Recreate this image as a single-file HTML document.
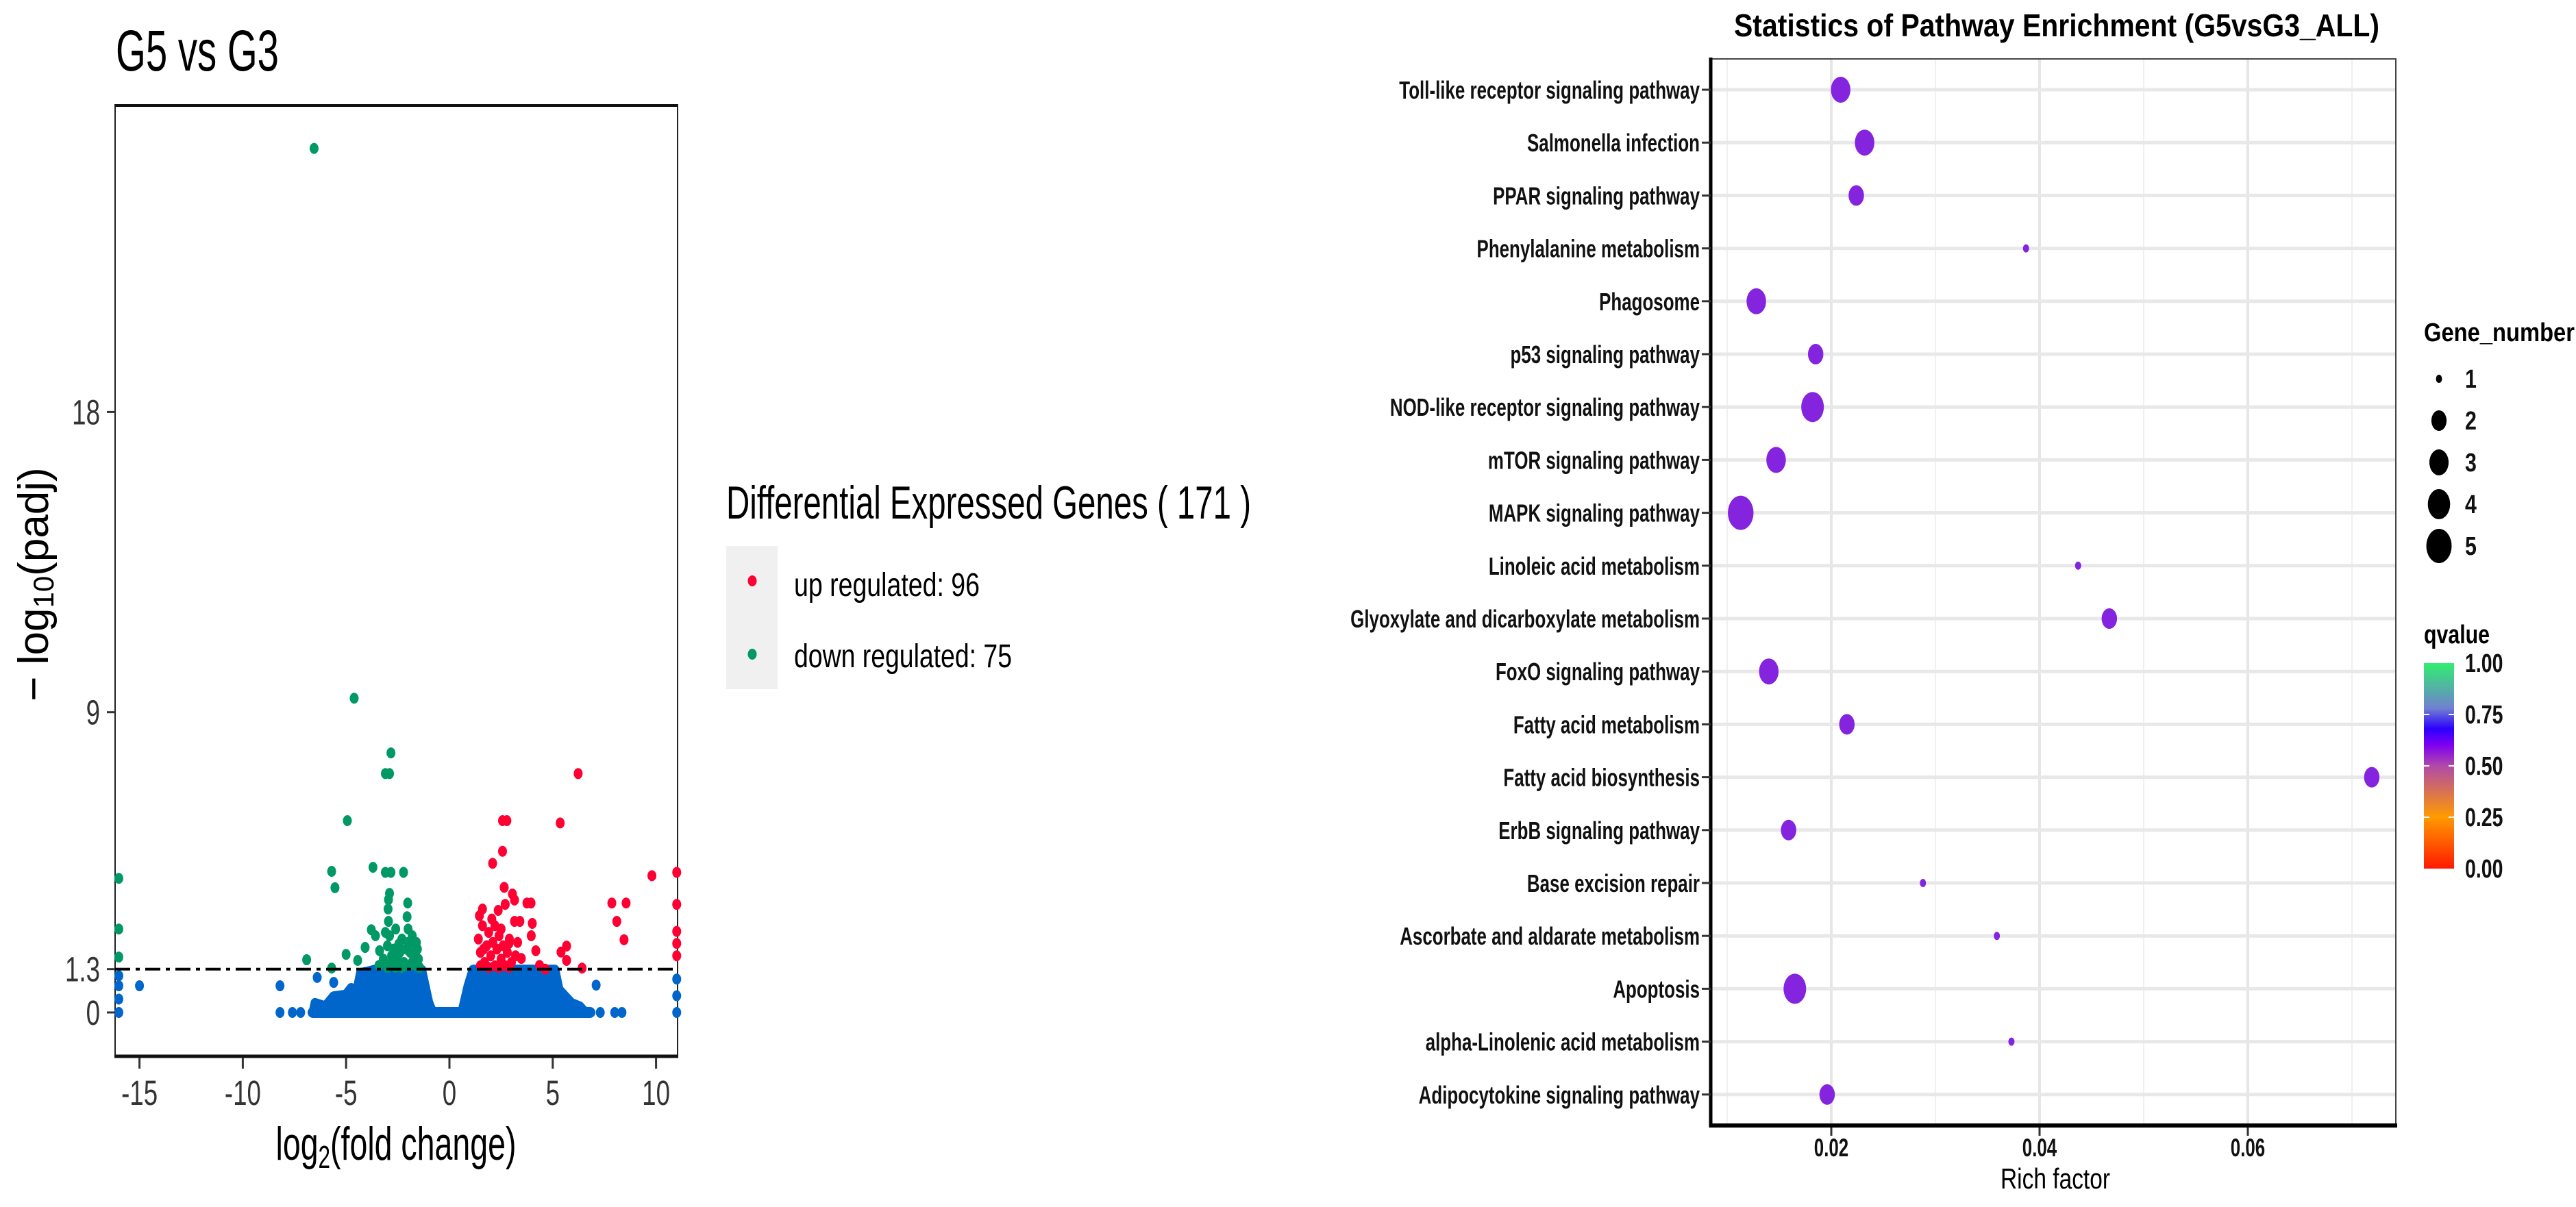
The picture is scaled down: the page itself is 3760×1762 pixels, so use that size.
<!DOCTYPE html>
<html><head><meta charset="utf-8"><style>
html,body{margin:0;padding:0;background:#fff}
svg{display:block}
text{font-family:"Liberation Sans",sans-serif}
</style></head><body>
<svg id="fig" width="3760" height="1762" viewBox="0 0 3760 1762" xmlns="http://www.w3.org/2000/svg">
<defs>
<linearGradient id="qgrad" x1="0" y1="1" x2="0" y2="0">
<stop offset="0" stop-color="#ff1a00"/><stop offset="0.25" stop-color="#ff9a00"/><stop offset="0.5" stop-color="#b04aa8"/><stop offset="0.6" stop-color="#8000f0"/><stop offset="0.68" stop-color="#2a00ff"/><stop offset="0.78" stop-color="#7080d0"/><stop offset="1" stop-color="#30ee70"/>
</linearGradient>
</defs>
<!-- Volcano panel -->
<g>
<text x="169" y="103" font-size="84" textLength="238" lengthAdjust="spacingAndGlyphs">G5 vs G3</text>
<rect x="168" y="153" width="821" height="1389" fill="#fff" stroke="#222" stroke-width="2"/>
<g id="vmarks"></g>
<line id="thr" x1="168" x2="989" stroke="#000" stroke-width="4" stroke-dasharray="22 8 6 8"/>
<line x1="168" y1="154" x2="989" y2="154" stroke="#111" stroke-width="4"/>
<line x1="167" y1="1542" x2="990" y2="1542" stroke="#111" stroke-width="5"/>
<g id="vaxes"></g>
<text x="578" y="1693" font-size="68" text-anchor="middle" textLength="351" lengthAdjust="spacingAndGlyphs">log<tspan font-size="46" dy="12">2</tspan><tspan dy="-12">(fold change)</tspan></text>
<text transform="translate(70,853) rotate(-90)" font-size="62" text-anchor="middle">− log<tspan font-size="42" dy="8">10</tspan><tspan dy="-8">(padj)</tspan></text>
<g>
<text x="1060" y="757" font-size="68" textLength="766" lengthAdjust="spacingAndGlyphs">Differential Expressed Genes ( 171 )</text>
<rect x="1060" y="797" width="75" height="209" fill="#f0f0f0"/>
<ellipse cx="1098" cy="848" rx="6.5" ry="8" fill="#ff0033"/>
<ellipse cx="1098" cy="955" rx="6.5" ry="8" fill="#009966"/>
<text x="1159" y="870" font-size="48" textLength="271" lengthAdjust="spacingAndGlyphs">up regulated: 96</text>
<text x="1159" y="974" font-size="48" textLength="318" lengthAdjust="spacingAndGlyphs">down regulated: 75</text>
</g>
</g>
<!-- Enrichment panel -->
<g>
<text x="3002" y="53" font-size="46" font-weight="bold" text-anchor="middle" textLength="942" lengthAdjust="spacingAndGlyphs">Statistics of Pathway Enrichment (G5vsG3_ALL)</text>
<rect x="2497" y="86" width="1000" height="1557" fill="#fff" stroke="#444" stroke-width="2"/>
<g id="egrid"></g>
<g id="emarks"></g>
<line x1="2497" y1="84" x2="2497" y2="1646" stroke="#000" stroke-width="5"/>
<line x1="2495" y1="1643" x2="3499" y2="1643" stroke="#000" stroke-width="6"/>
<g id="eaxes"></g>
<text x="3000" y="1735" font-size="42" text-anchor="middle" textLength="160" lengthAdjust="spacingAndGlyphs" fill="#000">Rich factor</text>
<g>
<text x="3538" y="498" font-size="38" font-weight="bold" textLength="220" lengthAdjust="spacingAndGlyphs">Gene_number</text>
<g id="glegend"></g>
</g>
<g>
<text x="3538" y="939" font-size="38" font-weight="bold" textLength="96" lengthAdjust="spacingAndGlyphs">qvalue</text>
<rect x="3538" y="968" width="44" height="300" fill="url(#qgrad)"/>
<g id="qlegend"></g>
</g>
</g>
</svg>
<script>
// ---- Volcano data ----
const xTicks = [-15, -10, -5, 0, 5, 10];
const yTicks = [0, 1.3, 9, 18];
const yTickLabels = ["0", "1.3", "9", "18"];
const threshold = 1.3;
const downPoints = [[-6.55,25.9],[-4.61,9.42],[-2.83,7.78],[-3.1,7.16],[-2.9,7.16],[-4.94,5.75],[-5.7,4.23],[-5.54,3.74],[-3.7,4.35],[-3.1,4.2],[-2.83,4.2],[-2.22,4.2],[-2.9,3.57],[-2.95,3.38],[-2.97,3.1],[-2.95,2.73],[-2.02,3.28],[-2.05,2.87],[-3.78,2.48],[-3.58,2.3],[-3.38,1.85],[-4.08,1.95],[-5.0,1.74],[-6.91,1.58],[-5.7,1.33],[-4.44,1.56],[-3.41,1.41],[-16,4.02],[-16,2.5],[-16,1.66],
[-3.1,2.4],[-2.9,2.3],[-2.6,2.5],[-2.3,2.2],[-2.0,2.5],[-1.8,2.3],[-1.6,2.1],[-3.0,2.0],[-2.7,1.9],[-2.4,1.8],[-2.1,1.9],[-1.9,1.8],[-1.7,1.7],[-1.5,1.6],[-3.2,1.6],[-2.8,1.5],[-2.5,1.6],[-2.2,1.5],[-1.95,1.4],[-1.6,1.4],[-1.45,1.35],[-2.6,1.35],[-3.0,1.35],[-2.3,1.35],[-1.8,1.5],[-2.0,2.1],[-1.7,2.0],[-2.8,1.7],[-1.55,1.9],[-2.45,2.05]];
const upPoints = [[6.23,7.16],[2.57,5.75],[2.78,5.75],[5.36,5.68],[2.57,4.83],[2.09,4.47],[9.8,4.1],[11,4.2],[11,3.24],[11,2.43],[11,2.07],[11,1.7],[2.65,3.75],[3.05,3.55],[3.15,3.37],[3.75,3.28],[3.95,3.28],[7.86,3.28],[8.55,3.28],[8.1,2.73],[8.45,2.18],[2.7,3.24],[2.36,3.06],[3.15,2.73],[3.41,2.73],[4.01,2.67],[3.96,2.3],[4.18,1.85],[5.67,1.99],[5.4,1.81],[5.67,1.56],[6.42,1.33],[4.36,1.41],[4.63,1.3],[3.48,1.62],[2.88,2.07],
[1.4,2.2],[1.5,1.8],[1.6,2.6],[1.7,1.5],[1.8,2.0],[1.9,2.4],[2.0,1.7],[2.1,2.1],[2.2,1.4],[2.3,1.9],[2.4,2.3],[2.5,1.6],[2.6,2.0],[2.7,1.4],[2.8,1.8],[2.9,2.2],[3.0,1.5],[1.5,1.4],[1.45,2.9],[1.6,3.1],[2.2,2.6],[2.5,2.5],[1.9,1.35],[2.4,1.35],[2.9,1.35],[3.2,1.7],[3.3,2.1],[1.65,1.9],[2.05,2.8]];
const nsLeftEnvelope = [[-6.6,0],[-6.5,0.3],[-6.0,0.2],[-5.6,0.5],[-5.0,0.55],[-4.75,0.75],[-4.5,0.6],[-4.3,1.2],[-3.9,1.25],[-3.6,1.3],[-1.35,1.3],[-1.0,0.3],[-0.8,0]];
const nsRightEnvelope = [[0.6,0],[0.9,0.8],[1.15,1.3],[5.1,1.3],[5.3,0.7],[5.6,0.5],[5.9,0.3],[6.3,0.2],[6.6,0]];
const nsBaseline = [-6.6, 6.8];
const nsPoints = [[-15,0.8],[-8.2,0.8],[-8.2,0],[-7.6,0],[-7.2,0],[-6.4,1.05],[-5.6,0.9],[7.1,0.82],[7.3,0],[8.0,0],[8.35,0],[-16,0],[-16,0.4],[-16,0.8],[-16,1.1],[11,0],[11,0.5],[11,1.0]];

// ---- Enrichment data ----
const pathways = ["Toll-like receptor signaling pathway","Salmonella infection","PPAR signaling pathway","Phenylalanine metabolism","Phagosome","p53 signaling pathway","NOD-like receptor signaling pathway","mTOR signaling pathway","MAPK signaling pathway","Linoleic acid metabolism","Glyoxylate and dicarboxylate metabolism","FoxO signaling pathway","Fatty acid metabolism","Fatty acid biosynthesis","ErbB signaling pathway","Base excision repair","Ascorbate and aldarate metabolism","Apoptosis","alpha-Linolenic acid metabolism","Adipocytokine signaling pathway"];
const richFactor = [0.0209,0.0232,0.0224,0.0387,0.0128,0.0185,0.0182,0.0147,0.0113,0.0437,0.0467,0.0140,0.0215,0.0719,0.0159,0.0288,0.0359,0.0165,0.0373,0.0196];
const geneNumber = [3,3,2,1,3,2,4,3,5,1,2,3,2,2,2,1,1,4,1,2];
const qvalue = [0.56,0.56,0.56,0.56,0.56,0.56,0.56,0.56,0.56,0.56,0.56,0.56,0.56,0.56,0.56,0.56,0.56,0.56,0.56,0.56];
const richTicks = [0.02, 0.04, 0.06];
const richTickLabels = ["0.02","0.04","0.06"];
const richMinor = [0.01, 0.03, 0.05, 0.07];
const sizeLevels = [1,2,3,4,5];
const qTicks = [0, 0.25, 0.5, 0.75, 1];
const qTickLabels = ["0.00","0.25","0.50","0.75","1.00"];

const NS = "http://www.w3.org/2000/svg";
function mk(tag, attrs, parent){ const e=document.createElementNS(NS,tag); for(const k in attrs) e.setAttribute(k,attrs[k]); parent.appendChild(e); return e; }

// Volcano scales
const X = v => 656 + v*30.16;
const Y = v => 1478 - v*48.7;
const vm = document.getElementById('vmarks');
const va = document.getElementById('vaxes');
document.getElementById('thr').setAttribute('y1', Y(threshold));
document.getElementById('thr').setAttribute('y2', Y(threshold));

{
  const l = mk('line',{x1:X(nsBaseline[0]),x2:X(nsBaseline[1]),y1:Y(0),y2:Y(0),stroke:'#0066cc','stroke-width':16,'stroke-linecap':'round'},vm);
  
  
}
[nsLeftEnvelope, nsRightEnvelope].forEach((env,i)=>{
  const pts = env.map(p=>X(p[0])+','+Y(p[1])).join(' ');
  const p = mk('polygon',{points:pts,fill:'#0066cc',stroke:'#0066cc','stroke-width':13,'stroke-linejoin':'round'},vm);
  
  
});
function dots(arr, color, name){
  arr.forEach(d=>{
    const e = mk('ellipse',{cx:X(d[0]),cy:Y(d[1]),rx:6.5,ry:8,fill:color},vm);
    
    
  });
}
dots(nsPoints,'#0066cc','ns-point');
dots(downPoints,'#009966','down-point');
dots(upPoints,'#ff0033','up-point');

xTicks.forEach(t=>{
  const l = mk('line',{x1:X(t),x2:X(t),y1:1544,y2:1560,stroke:'#333','stroke-width':3},va);
  
  
  const tx = mk('text',{transform:`translate(${X(t)},1613) scale(0.72,1)`,'font-size':51,'text-anchor':'middle',fill:'#333'},va);
  tx.textContent = String(t);
  
  
});
yTicks.forEach((t,i)=>{
  const l = mk('line',{x1:156,x2:168,y1:Y(t),y2:Y(t),stroke:'#333','stroke-width':3},va);
  
  
  const tx = mk('text',{transform:`translate(146,${Y(t)+18}) scale(0.72,1)`,'font-size':51,'text-anchor':'end',fill:'#333'},va);
  tx.textContent = yTickLabels[i];
  
  
});

// Enrichment scales
const RX = v => 2673 + (v-0.02)*15200;
const RY = i => 131 + i*77.2;
const eg = document.getElementById('egrid');
const em = document.getElementById('emarks');
const ea = document.getElementById('eaxes');
richMinor.forEach(t=>{
  const l = mk('line',{x1:RX(t),x2:RX(t),y1:87,y2:1641,stroke:'#f0f0f0','stroke-width':2},eg);
  
  
});
richTicks.forEach(t=>{
  const l = mk('line',{x1:RX(t),x2:RX(t),y1:87,y2:1641,stroke:'#e6e6e6','stroke-width':4},eg);
  
  
});
pathways.forEach((p,i)=>{
  const l = mk('line',{x1:2498,x2:3496,y1:RY(i),y2:RY(i),stroke:'#e8e8e8','stroke-width':5},eg);
  
  
});
function qcolor(q){ return q>0.5 ? '#8424de' : '#b04aa8'; }
const rY = {1:6,2:15,3:19,4:22,5:25};
pathways.forEach((p,i)=>{
  const ry = rY[geneNumber[i]];
  const e = mk('ellipse',{cx:RX(richFactor[i]),cy:RY(i),rx:ry*0.75,ry:ry,fill:qcolor(qvalue[i])},em);
  
  
  const t = mk('line',{x1:2484,x2:2497,y1:RY(i),y2:RY(i),stroke:'#333','stroke-width':3},ea);
  
  
  const tx = mk('text',{transform:`translate(2481,${RY(i)+13}) scale(0.72,1)`,'font-size':36,'font-weight':'bold','text-anchor':'end',fill:'#111'},ea);
  tx.textContent = p;
  
  
});
richTicks.forEach((t,i)=>{
  const l = mk('line',{x1:RX(t),x2:RX(t),y1:1646,y2:1658,stroke:'#333','stroke-width':3},ea);
  
  
  const tx = mk('text',{transform:`translate(${RX(t)},1688) scale(0.7,1)`,'font-size':37,'font-weight':'bold','text-anchor':'middle',fill:'#111'},ea);
  tx.textContent = richTickLabels[i];
  
  
});
// size legend
const gl = document.getElementById('glegend');
sizeLevels.forEach((s,i)=>{
  const cy = 553 + i*61;
  const e = mk('ellipse',{cx:3560,cy:cy,rx:rY[s]*0.74,ry:rY[s],fill:'#000'},gl);
  
  
  const tx = mk('text',{transform:`translate(3598,${cy+13}) scale(0.8,1)`,'font-size':38,'font-weight':'bold',fill:'#111'},gl);
  tx.textContent = String(s);
  
  
});
// q legend
const ql = document.getElementById('qlegend');
qTicks.forEach((q,i)=>{
  const y = 1268 - q*300;
  if(q>0 && q<1){
    const a = mk('line',{x1:3538,x2:3546,y1:y,y2:y,stroke:'#fff','stroke-width':2},ql);
    
    
    const b = mk('line',{x1:3574,x2:3582,y1:y,y2:y,stroke:'#fff','stroke-width':2},ql);
    
    
  }
  const tx = mk('text',{transform:`translate(3598,${y+13}) scale(0.75,1)`,'font-size':38,'font-weight':'bold',fill:'#111'},ql);
  tx.textContent = qTickLabels[i];
  
  
});
</script>
</body></html>
